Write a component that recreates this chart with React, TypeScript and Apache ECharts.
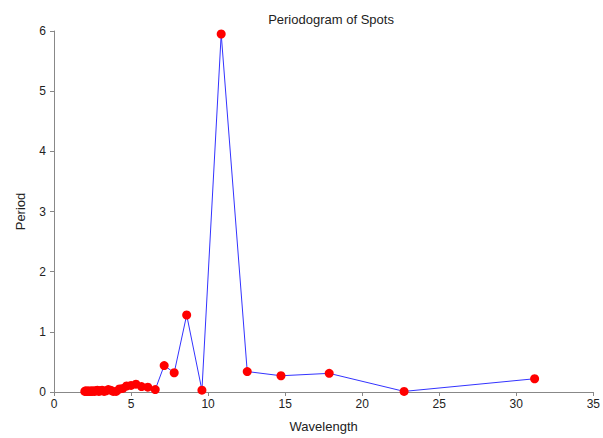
import React, { useEffect, useRef } from "react";
import * as echarts from "echarts";

const wavelengths = [31.19, 22.72, 17.86, 14.73, 12.54, 10.85, 9.6, 8.61, 7.8, 7.15, 6.57, 6.09, 5.68, 5.32, 5.0, 4.71, 4.46, 4.24, 4.03, 3.84, 3.68, 3.52, 3.38, 3.25, 3.12, 3.01, 2.91, 2.81, 2.72, 2.63, 2.55, 2.47, 2.4, 2.34, 2.27, 2.21, 2.15, 2.1, 2.05, 2.0];
const periods = [0.22, 0.01, 0.31, 0.27, 0.34, 5.95, 0.03, 1.28, 0.32, 0.44, 0.04, 0.08, 0.09, 0.13, 0.11, 0.1, 0.06, 0.05, 0.01, 0.01, 0.03, 0.04, 0.02, 0.01, 0.03, 0.02, 0.01, 0.03, 0.02, 0.01, 0.02, 0.01, 0.02, 0.01, 0.01, 0.02, 0.01, 0.01, 0.02, 0.01];

export default function App() {
  const ref = useRef<HTMLDivElement>(null);
  useEffect(() => {
    if (!ref.current) return;
    const chart = echarts.init(ref.current, undefined, { renderer: "svg" });
    const data = wavelengths
      .map((w, i) => [w, periods[i]])
      .sort((a, b) => a[0] - b[0]);
    const font = "Liberation Sans, Arial, sans-serif";
    const axisCommon = {
      axisLine: { show: true, lineStyle: { color: "#888", width: 1 } },
      axisTick: { show: true, length: 4, lineStyle: { color: "#888" } },
      axisLabel: { color: "#222", fontSize: 12, fontFamily: font },
      splitLine: { show: false },
      nameTextStyle: { color: "#222", fontSize: 13, fontFamily: font },
    };
    chart.setOption({
      animation: false,
      backgroundColor: "#fff",
      title: {
        text: "Periodogram of Spots",
        left: 326,
        textAlign: "center",
        top: 8,
        textStyle: { fontSize: 13, fontWeight: "normal", color: "#222", fontFamily: font },
      },
      grid: { left: 54, right: 6, top: 31, bottom: 44, containLabel: false },
      xAxis: {
        type: "value",
        min: 0,
        max: 35,
        interval: 5,
        name: "Wavelength",
        nameLocation: "middle",
        nameGap: 28,
        ...axisCommon,
        axisLabel: { ...axisCommon.axisLabel, margin: 6 },
      },
      yAxis: {
        type: "value",
        min: 0,
        max: 6,
        interval: 1,
        name: "Period",
        nameLocation: "middle",
        nameGap: 27,
        ...axisCommon,
        axisLabel: { ...axisCommon.axisLabel, margin: 8 },
      },
      series: [
        {
          type: "line",
          data,
          symbol: "circle",
          symbolSize: 9,
          itemStyle: { color: "#ff0000", borderWidth: 0 },
          lineStyle: { color: "#3333ff", width: 1 },
          z: 2,
        },
      ],
    });
    return () => chart.dispose();
  }, []);
  return <div ref={ref} style={{ width: 603, height: 438, position: "absolute", left: 0, top: 0 }} />;
}
